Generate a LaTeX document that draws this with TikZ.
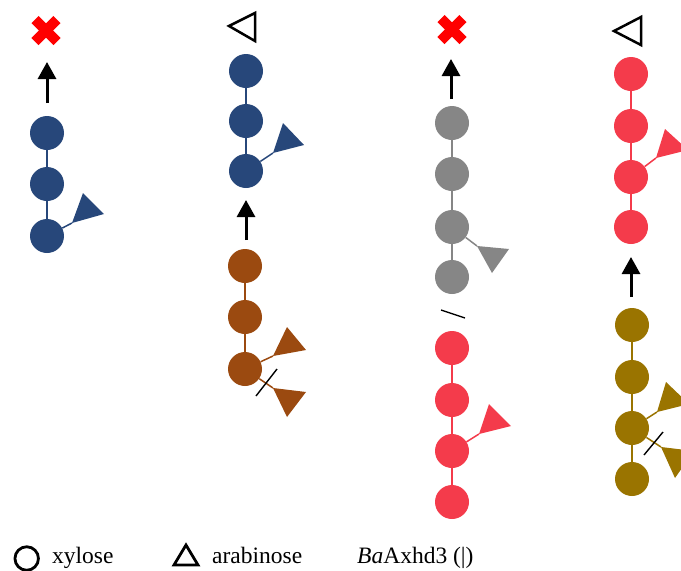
\documentclass[tikz,border=0pt]{standalone}
\usepackage{fontspec}
\setmainfont{Liberation Serif}
\usetikzlibrary{arrows.meta,calc}
\definecolor{navy}{RGB}{39,71,122}
\definecolor{brownc}{RGB}{155,74,16}
\definecolor{grayc}{RGB}{134,134,134}
\definecolor{redc}{RGB}{244,59,75}
\definecolor{olivec}{RGB}{154,116,0}
\definecolor{xred}{RGB}{255,0,0}
\tikzset{
  xyl/.style={circle,fill=#1,draw=none,minimum size=34pt,inner sep=0pt},
  bond/.style={draw=#1,line width=1.5pt},
  ara/.style={fill=#1,draw=none},
  arr/.style={line width=3pt,-{Triangle[width=18pt,length=17pt]}},
  tick/.style={line width=1.4pt,black},
  crossline/.style={line width=10pt,xred},
  opentri/.style={draw=black,line width=2.5pt,fill=none,line join=miter},
  legtext/.style={anchor=base west,inner sep=0pt,font=\fontsize{23.5}{28}\selectfont}
}
\begin{document}
\begin{tikzpicture}[x=1pt,y=-1pt]
\useasboundingbox (0,0) rectangle (681,571);

% ---------- Column 1 ----------
\coordinate (x1) at (46,30.5);
\draw[crossline] ($(x1)+(-11,-11)$) -- ($(x1)+(11,11)$);
\draw[crossline] ($(x1)+(-11,11)$) -- ($(x1)+(11,-11)$);
\coordinate (a1s) at (47,103);
\coordinate (a1e) at (47,62);
\draw[arr] (a1s) -- (a1e);
\node[xyl=navy] (c11) at (47,133) {};
\node[xyl=navy] (c12) at (47,184) {};
\node[xyl=navy] (c13) at (47,236) {};
\coordinate (t1) at (72,223);
\fill[ara=navy] (t1) -- (83,193) -- (104,214) -- cycle;
\draw[bond=navy] (c11) -- (c12);
\draw[bond=navy] (c12) -- (c13);
\draw[bond=navy] (c13) -- (t1);

% ---------- Column 2 ----------
\coordinate (o2) at (229,26);
\draw[opentri] (o2) -- (255,13) -- (255,41) -- cycle;
\node[xyl=navy] (c21) at (246,71) {};
\node[xyl=navy] (c22) at (246,121) {};
\node[xyl=navy] (c23) at (246,171) {};
\coordinate (t2) at (273,153);
\fill[ara=navy] (t2) -- (283,123) -- (304,145) -- cycle;
\draw[bond=navy] (c21) -- (c22);
\draw[bond=navy] (c22) -- (c23);
\draw[bond=navy] (c23) -- (t2);
\coordinate (a2s) at (246,240);
\coordinate (a2e) at (246,200);
\draw[arr] (a2s) -- (a2e);
\node[xyl=brownc] (b21) at (245,266) {};
\node[xyl=brownc] (b22) at (245,317) {};
\node[xyl=brownc] (b23) at (245,369) {};
\coordinate (t3) at (273,356);
\fill[ara=brownc] (t3) -- (287,327) -- (306,350) -- cycle;
\coordinate (t4) at (273,388);
\fill[ara=brownc] (t4) -- (306,392) -- (287,417) -- cycle;
\draw[bond=brownc] (b21) -- (b22);
\draw[bond=brownc] (b22) -- (b23);
\draw[bond=brownc] (b23) -- (t3);
\draw[bond=brownc] (b23) -- (t4);
\coordinate (k1a) at (256,396);
\coordinate (k1b) at (277,369);
\draw[tick] (k1a) -- (k1b);

% ---------- Column 3 ----------
\coordinate (x3) at (452,29.5);
\draw[crossline] ($(x3)+(-11,-11)$) -- ($(x3)+(11,11)$);
\draw[crossline] ($(x3)+(-11,11)$) -- ($(x3)+(11,-11)$);
\coordinate (a3s) at (451,99);
\coordinate (a3e) at (451,59);
\draw[arr] (a3s) -- (a3e);
\node[xyl=grayc] (g31) at (452,123) {};
\node[xyl=grayc] (g32) at (452,174) {};
\node[xyl=grayc] (g33) at (452,227) {};
\node[xyl=grayc] (g34) at (452,277) {};
\coordinate (t5) at (477,246);
\fill[ara=grayc] (t5) -- (509,249) -- (492,273) -- cycle;
\draw[bond=grayc] (g31) -- (g32);
\draw[bond=grayc] (g32) -- (g33);
\draw[bond=grayc] (g33) -- (g34);
\draw[bond=grayc] (g33) -- (t5);
\coordinate (k2a) at (441,310);
\coordinate (k2b) at (465,318);
\draw[tick] (k2a) -- (k2b);
\node[xyl=redc] (r31) at (452,348) {};
\node[xyl=redc] (r32) at (452,400) {};
\node[xyl=redc] (r33) at (452,451) {};
\node[xyl=redc] (r34) at (452,502) {};
\coordinate (t6) at (479,434);
\fill[ara=redc] (t6) -- (489,404) -- (511,426) -- cycle;
\draw[bond=redc] (r31) -- (r32);
\draw[bond=redc] (r32) -- (r33);
\draw[bond=redc] (r33) -- (r34);
\draw[bond=redc] (r33) -- (t6);

% ---------- Column 4 ----------
\coordinate (o4) at (614,31);
\draw[opentri] (o4) -- (641,17) -- (641,45) -- cycle;
\node[xyl=redc] (r41) at (631,74) {};
\node[xyl=redc] (r42) at (631,126) {};
\node[xyl=redc] (r43) at (631,177) {};
\node[xyl=redc] (r44) at (631,227) {};
\coordinate (t7) at (656,158);
\fill[ara=redc] (t7) -- (665,129) -- (688,150) -- cycle;
\draw[bond=redc] (r41) -- (r42);
\draw[bond=redc] (r42) -- (r43);
\draw[bond=redc] (r43) -- (r44);
\draw[bond=redc] (r43) -- (t7);
\coordinate (a4s) at (631,297);
\coordinate (a4e) at (631,257);
\draw[arr] (a4s) -- (a4e);
\node[xyl=olivec] (v41) at (632,325) {};
\node[xyl=olivec] (v42) at (632,377) {};
\node[xyl=olivec] (v43) at (632,428) {};
\node[xyl=olivec] (v44) at (632,479) {};
\coordinate (t8) at (657,412);
\fill[ara=olivec] (t8) -- (666,382) -- (689,404) -- cycle;
\coordinate (t9) at (661,447);
\fill[ara=olivec] (t9) -- (694,451) -- (675,478) -- cycle;
\draw[bond=olivec] (v41) -- (v42);
\draw[bond=olivec] (v42) -- (v43);
\draw[bond=olivec] (v43) -- (v44);
\draw[bond=olivec] (v43) -- (t8);
\draw[bond=olivec] (v43) -- (t9);
\coordinate (k3a) at (644,455);
\coordinate (k3b) at (663,432);
\draw[tick] (k3a) -- (k3b);

% ---------- Legend ----------
\node[circle,draw=black,line width=2.8pt,minimum size=23.5pt,inner sep=0pt] (lx) at (26.7,558.5) {};
\node[legtext] (lxt) at (52,563) {xylose};
\coordinate (la) at (174,565);
\draw[opentri,line width=2.8pt] (la) -- (186,545) -- (198,565) -- cycle;
\node[legtext] (lat) at (212,563) {arabinose};
\node[legtext] (lbt) at (357,563) {\textit{Ba}Axhd3 (|)};
\end{tikzpicture}
\end{document}
